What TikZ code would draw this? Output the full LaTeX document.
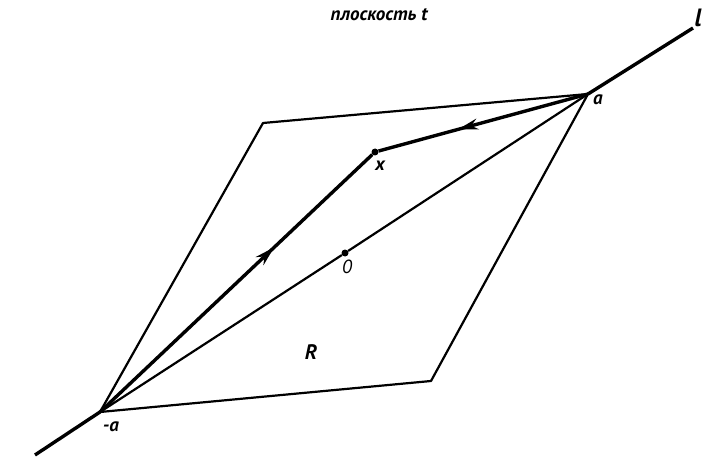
\documentclass[tikz,border=0pt]{standalone}
\usepackage{fontspec}
\setmainfont{PT Sans}
\usetikzlibrary{decorations.markings,arrows.meta}
\begin{document}
\begin{tikzpicture}[x=1pt,y=-1pt,
  thin line/.style={line width=2.2pt},
  thick line/.style={line width=3.4pt},
  lbl/.style={font=\itshape\bfseries\fontsize{19}{22}\selectfont, inner sep=1pt},
  dot/.style={circle,fill,inner sep=0pt,minimum size=7pt},
  midarrow/.style={postaction={decorate},decoration={markings,mark=at position #1 with {\arrow{Stealth[length=20pt,width=11pt]}}}}]
\useasboundingbox (0,0) rectangle (707,468);
\coordinate (A) at (588,94);
\coordinate (mA) at (100,412);
\coordinate (TL) at (263,123);
\coordinate (BR) at (431,381);
\coordinate (L1) at (693,28);
\coordinate (L2) at (35,455);
\node[dot] (X) at (375,152) {};
\node[dot] (O) at (345,253) {};
% parallelogram
\draw[thin line,line join=round] (mA) -- (TL) -- (A) -- (BR) -- cycle;
% diagonal through 0
\draw[thin line] (mA) -- (O) -- (A);
% line l
\draw[thick line] (A) -- (L1);
\draw[thick line] (mA) -- (L2);
% path to x
\draw[thick line,midarrow=0.64] (mA) -- (X);
\draw[thick line,midarrow=0.62] (A) -- (X);
% labels
\node[lbl] (ta) at (598,100) {a};
\node[lbl] (tma) at (111,427) {-a};
\node[lbl] (tx) at (380,166) {x};
\node[lbl,font=\itshape\fontsize{19}{22}\selectfont] (to) at (347,267) {0};
\node[lbl,font=\itshape\bfseries\fontsize{21}{24}\selectfont] (tR) at (311,352) {R};
\node[lbl,font=\itshape\bfseries\fontsize{25}{28}\selectfont] (tl) at (698,18) {l};
\node[lbl] (title) at (379,15) {плоскость t};
\end{tikzpicture}
\end{document}
